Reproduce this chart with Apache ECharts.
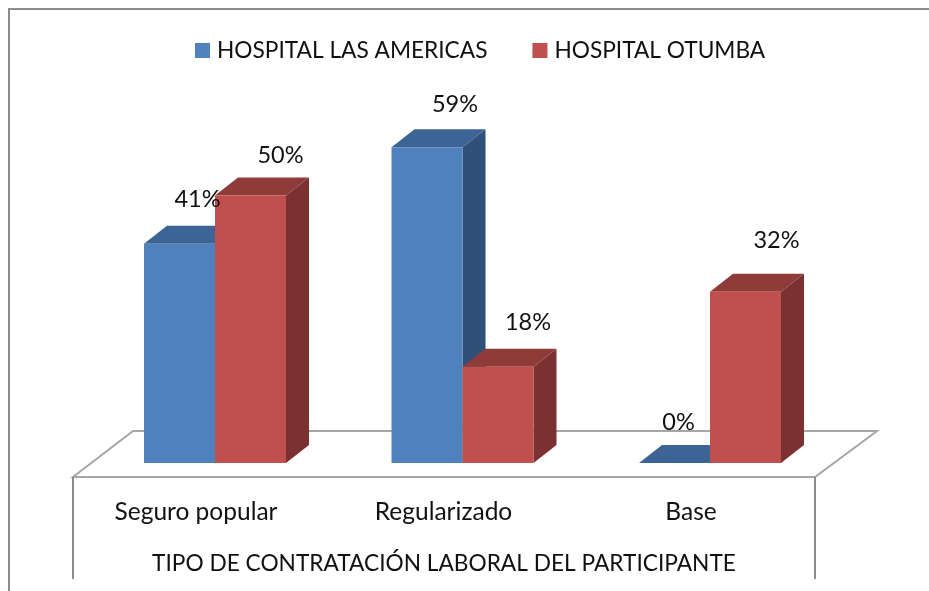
<!DOCTYPE html>
<html>
<head>
<meta charset="utf-8">
<script src="https://cdn.jsdelivr.net/npm/echarts@6/dist/echarts.min.js"></script>
<style>
    html, body { margin: 0; padding: 0; background: #fff; }
    #main { width: 929px; height: 591px; }
</style>
</head>
<body>
<div id="main"></div>
<script>
    var categories = ['Seguro popular', 'Regularizado', 'Base'];
    var americas = [41, 59, 0];
    var otumba = [50, 18, 32];
    var seriesNames = ['HOSPITAL LAS AMERICAS', 'HOSPITAL OTUMBA'];
    var axisTitle = 'TIPO DE CONTRATACIÓN LABORAL DEL PARTICIPANTE';

    var font = 'Lato';
    var grey = '#8c8c8c';

    // profundidad del efecto 3D
    var depthX = 23, depthY = 18;
    var barShare = 71 / 247.5;

    // las etiquetas del original estan movidas a mano
    var labelShift = [
        [[18, -44], [28, -43], [4, -41]],
        [[30, -40], [30, -44], [31, -51]]
    ];

    function bar3d(serie, front, top, side) {
        return function (params, api) {
            var i = api.value(0);
            var band = api.size([1, 0])[0];
            var w = band * barShare;
            var base = api.coord([i, 0]);
            var peak = api.coord([i, api.value(1)]);
            var x0 = base[0] + (serie === 0 ? -w : 0);
            var x1 = x0 + w;
            var y0 = base[1], y1 = peak[1];
            var shift = labelShift[serie][i];
            return {
                type: 'group',
                children: [
                    { type: 'polygon', shape: { points: [[x1, y0], [x1 + depthX, y0 - depthY], [x1 + depthX, y1 - depthY], [x1, y1]] }, style: { fill: side } },
                    { type: 'polygon', shape: { points: [[x0, y1], [x0 + depthX, y1 - depthY], [x1 + depthX, y1 - depthY], [x1, y1]] }, style: { fill: top } },
                    { type: 'rect', shape: { x: x0, y: y1, width: w, height: y0 - y1 }, style: { fill: front } },
                    {
                        type: 'text',
                        z2: 100,
                        style: {
                            text: api.value(1) + '%',
                            x: (x0 + x1) / 2 + shift[0],
                            y: y1 + shift[1],
                            align: 'center',
                            verticalAlign: 'middle',
                            font: '23.5px ' + font,
                            fill: '#111'
                        }
                    }
                ]
            };
        };
    }

    function toData(values) {
        return values.map(function (v, i) { return [i, v]; });
    }

    var chart = echarts.init(document.getElementById('main'), null, { renderer: 'canvas' });

    var option = {
        animation: false,
        backgroundColor: '#fff',
        textStyle: { fontFamily: font },
        legend: {
            top: 34,
            left: 190,
            icon: 'rect',
            itemWidth: 15,
            itemHeight: 15,
            itemGap: 45,
            textStyle: { fontSize: 22.7, color: '#111', fontFamily: font, padding: [0, 0, 0, 2] },
            data: seriesNames
        },
        grid: { left: 91.25, top: 142, width: 742.5, height: 321 },
        xAxis: {
            type: 'category',
            data: categories,
            axisLine: { show: false },
            axisTick: { show: false },
            // el texto va corrido a la izquierda del centro de cada grupo
            axisLabel: { fontSize: 24.5, color: '#111', margin: 37, padding: [0, 38, 0, 0], fontFamily: font }
        },
        yAxis: { type: 'value', min: 0, max: 60, show: false },
        series: [
            {
                name: seriesNames[0],
                type: 'custom',
                itemStyle: { color: '#4F81BD' },
                renderItem: bar3d(0, '#4F81BD', '#3C6595', '#305078'),
                data: toData(americas)
            },
            {
                name: seriesNames[1],
                type: 'custom',
                itemStyle: { color: '#C0504D' },
                renderItem: bar3d(1, '#C0504D', '#8F3B39', '#7A3130'),
                data: toData(otumba)
            }
        ],
        graphic: [
            // marco exterior, abierto a la derecha y abajo
            { type: 'polyline', z: -2, shape: { points: [[9, 591], [9, 9], [929, 9]] }, style: { stroke: grey, lineWidth: 2, fill: null } },
            // piso
            { type: 'polygon', z: -1, shape: { points: [[133, 431], [877, 431], [815, 477], [73, 477]] }, style: { stroke: '#a6a6a6', lineWidth: 2, fill: '#fff' } },
            { type: 'line', z: -1, shape: { x1: 73, y1: 477, x2: 73, y2: 579 }, style: { stroke: grey, lineWidth: 2 } },
            { type: 'line', z: -1, shape: { x1: 815, y1: 477, x2: 815, y2: 579 }, style: { stroke: grey, lineWidth: 2 } },
            {
                type: 'text',
                z: 3,
                style: { text: axisTitle, x: 444, y: 564, align: 'center', verticalAlign: 'middle', font: '22.7px ' + font, fill: '#111' }
            }
        ]
    };

    chart.setOption(option);
</script>
</body>
</html>
